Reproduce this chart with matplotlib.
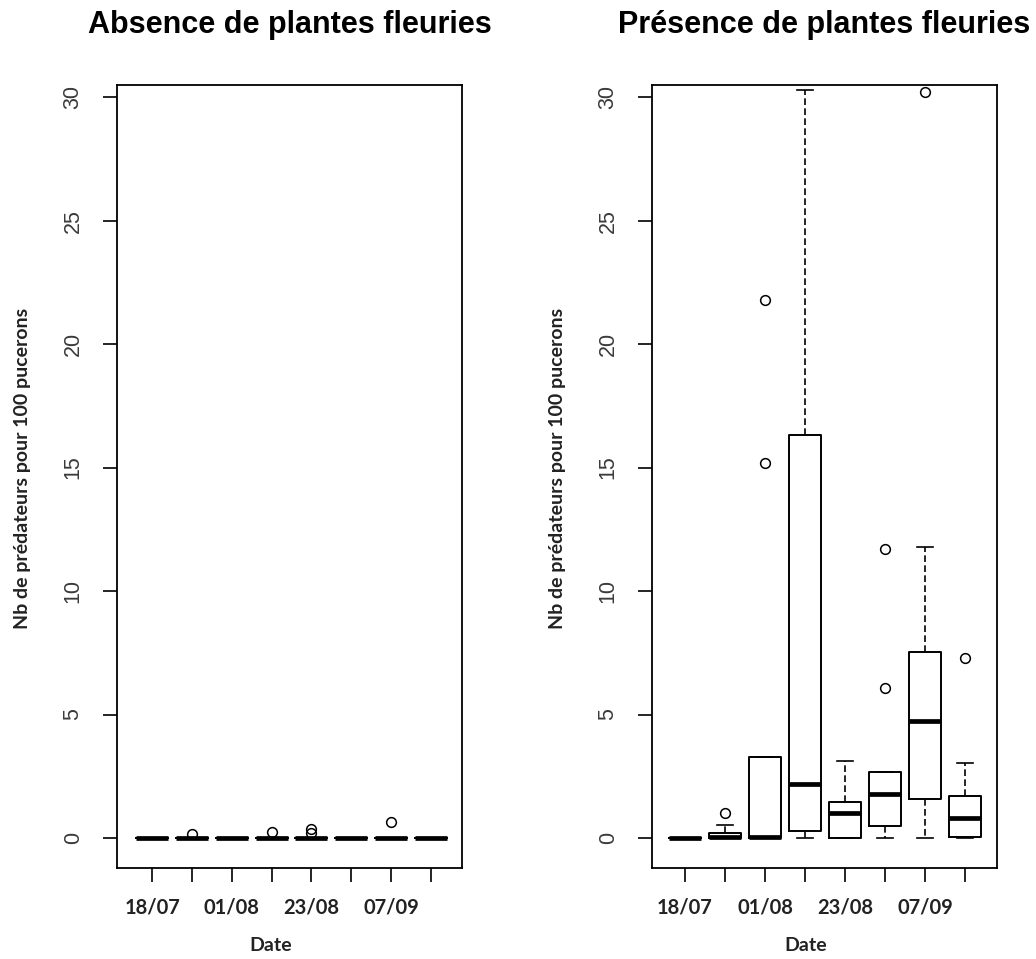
import matplotlib
matplotlib.use("Agg")
import matplotlib.pyplot as plt

# Dates (one box per sampling date, labels only every other one)
dates = ["18/07", "", "01/08", "", "23/08", "", "07/09", ""]
positions = [1, 2, 3, 4, 5, 6, 7, 8]

# Absence de plantes fleuries: every box collapsed on 0
abs_whislo = [0, 0, 0, 0, 0, 0, 0, 0]
abs_q1 = [0, 0, 0, 0, 0, 0, 0, 0]
abs_med = [0, 0, 0, 0, 0, 0, 0, 0]
abs_q3 = [0, 0, 0, 0, 0, 0, 0, 0]
abs_whishi = [0, 0, 0, 0, 0, 0, 0, 0]
abs_fliers = [[], [0.15], [], [0.25], [0.2, 0.38], [], [0.65], []]

# Presence de plantes fleuries
pres_whislo = [0, 0, 0, 0, 0, 0, 0, 0]
pres_q1 = [0, 0, 0, 0.28, 0, 0.5, 1.58, 0.05]
pres_med = [0, 0.05, 0.05, 2.2, 1.0, 1.8, 4.74, 0.8]
pres_q3 = [0, 0.2, 3.28, 16.3, 1.45, 2.67, 7.53, 1.7]
pres_whishi = [0, 0.53, 3.28, 30.3, 3.1, 2.67, 11.8, 3.04]
pres_fliers = [[], [1.0], [15.2, 21.8], [], [], [6.07, 11.7], [30.2], [7.29]]

yticks = [0, 5, 10, 15, 20, 25, 30]

LABEL_FONT = "Lato"


def make_stats(whislo, q1, med, q3, whishi, fliers):
    return [dict(whislo=a, q1=b, med=c, q3=d, whishi=e, fliers=f)
            for a, b, c, d, e, f in zip(whislo, q1, med, q3, whishi, fliers)]


def draw_panel(ax, stats, title, xlim):
    ax.bxp(
        stats, positions=positions, widths=0.8, capwidths=0.4,
        showfliers=True, manage_ticks=False,
        boxprops=dict(color="black", linewidth=1.4),
        medianprops=dict(color="black", linewidth=3.4, solid_capstyle="butt"),
        whiskerprops=dict(color="black", linewidth=1.2, linestyle=(0, (4, 2))),
        capprops=dict(color="black", linewidth=1.2),
        flierprops=dict(marker="o", markersize=7, markerfacecolor="none",
                        markeredgecolor="black", markeredgewidth=1.1),
    )
    ax.set_xlim(*xlim)
    ax.set_ylim(-1.215, 30.49)
    ax.set_xticks(positions)
    ax.set_xticklabels(dates, fontfamily=LABEL_FONT, fontweight="bold",
                       fontsize=14.5, color="#222222")
    ax.set_yticks(yticks)
    ax.set_yticklabels([str(t) for t in yticks], rotation=90, va="center",
                       fontfamily="Liberation Sans", fontsize=15.5, color="#3a3a3a")
    ax.tick_params(axis="x", direction="out", length=10, width=1.2, pad=11)
    ax.tick_params(axis="y", direction="out", length=10, width=1.2, pad=14)
    for s in ax.spines.values():
        s.set_linewidth(1.3)
    ax.text(0.5, 1.0 + (85 - 33) / 783, title, transform=ax.transAxes,
            ha="center", va="baseline", fontfamily="Liberation Sans",
            fontweight="bold", fontsize=22)
    ax.text(-0.275, 0.51, "Nb de prédateurs pour 100 pucerons",
            transform=ax.transAxes, rotation=90, ha="center", va="center",
            fontfamily=LABEL_FONT, fontweight="bold", fontsize=14,
            color="#222222")
    ax.text(0.446, -0.0996, "Date", transform=ax.transAxes,
            ha="center", va="center", fontfamily=LABEL_FONT,
            fontweight="bold", fontsize=14, color="#222222")


fig = plt.figure(figsize=(10.36, 9.59), dpi=100)
ax1 = fig.add_axes([117 / 1036, 1 - 868 / 959, 345 / 1036, 783 / 959])
ax2 = fig.add_axes([652 / 1036, 1 - 868 / 959, 345 / 1036, 783 / 959])

draw_panel(ax1, make_stats(abs_whislo, abs_q1, abs_med, abs_q3, abs_whishi, abs_fliers),
           "Absence de plantes fleuries", (0.12, 8.78))
draw_panel(ax2, make_stats(pres_whislo, pres_q1, pres_med, pres_q3, pres_whishi, pres_fliers),
           "Présence de plantes fleuries", (0.175, 8.8))

fig.savefig("out.png", dpi=100)
